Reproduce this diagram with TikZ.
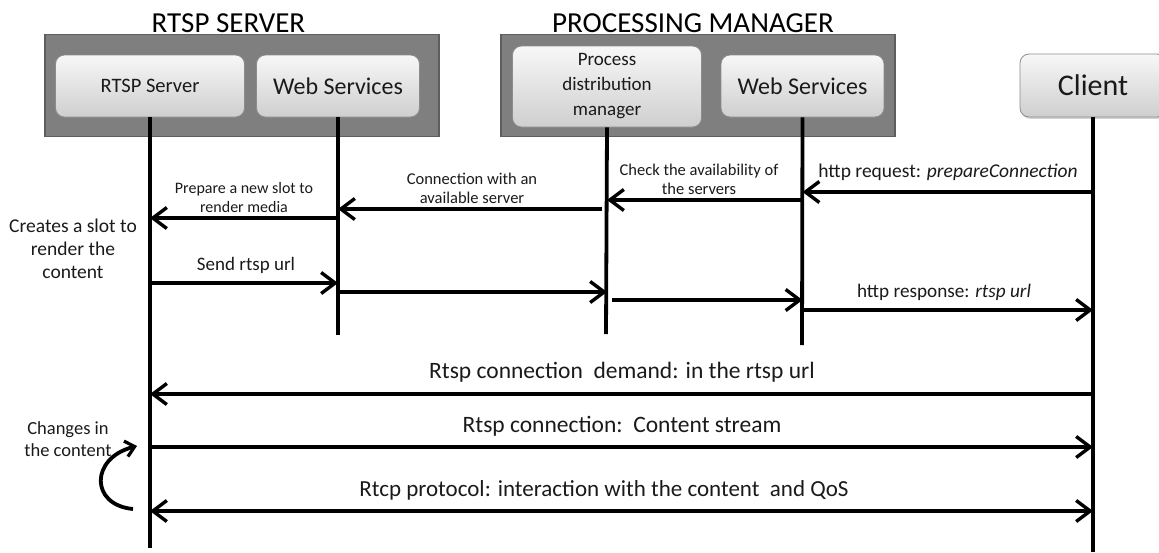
\documentclass[tikz,border=0pt]{standalone}
\usepackage{fontspec}
\setmainfont{Carlito}
\usetikzlibrary{arrows.meta,shadows,calc}

\definecolor{groupfill}{HTML}{7F7F7F}
\definecolor{groupline}{HTML}{5E5E5E}
\definecolor{boxline}{HTML}{8C8C8C}
\definecolor{txt}{HTML}{1A1A1A}

\newcommand{\fs}[2]{\fontsize{#1}{#2}\selectfont}

\tikzset{
  group/.style={draw=groupline, line width=1.6pt, fill=groupfill, minimum height=102pt, inner sep=0pt},
  actor/.style={draw=boxline, line width=0.8pt, rounded corners=9pt,
    top color=gray!6, bottom color=gray!38, minimum height=62pt, inner sep=2pt,
    align=center, text=txt,
    drop shadow={opacity=0.35, shadow xshift=1.2pt, shadow yshift=-1.8pt}},
  title/.style={font=\fs{29}{31}, text=black, inner sep=0pt},
  life/.style={line width=3.8pt, line cap=butt},
  msg/.style={line width=3.8pt, -{Straight Barb[length=14pt, width=21pt, line width=3.4pt]}},
  both/.style={line width=3.8pt, {Straight Barb[length=14pt, width=21pt, line width=3.4pt]}-{Straight Barb[length=14pt, width=21pt, line width=3.4pt]}},
  lbl/.style={text=txt, inner sep=0pt, align=center},
}

\begin{document}
\begin{tikzpicture}[x=1pt, y=-1pt]
  \useasboundingbox (0,0) rectangle (1159,552);

  % group titles
  \node[title] (t1) at (228.5,23) {RTSP SERVER};
  \node[title] (t2) at (693,23) {PROCESSING MANAGER};

  % group frames
  \node[group, minimum width=394pt] (g1) at (242,85.5) {};
  \node[group, minimum width=394pt] (g2) at (698,85.5) {};

  % participants
  \node[actor, minimum width=189pt, font=\fs{20.5}{22}] (rs) at (150,86) {RTSP Server};
  \node[actor, minimum width=163pt, font=\fs{24}{26}] (ws1) at (338,86) {Web Services};
  \node[actor, minimum width=189pt, minimum height=81pt, font=\fs{19}{25}] (pdm) at (607,86.5) {Process\\distribution\\manager};
  \node[actor, minimum width=163pt, font=\fs{24}{26}] (ws2) at (802.5,86) {Web Services};
  \node[actor, minimum width=146pt, minimum height=63pt, font=\fs{30}{32}] (cl) at (1093,85.5) {Client};

  % lifelines
  \coordinate (rsEnd) at (150,548);
  \coordinate (ws1End) at (338,335);
  \coordinate (pdmEnd) at (606,334);
  \coordinate (ws2End) at (802,345);
  \coordinate (clEnd) at (1093,552);
  \draw[life] (rs.south) -- (rsEnd);
  \draw[life] (ws1.south) -- (ws1End);
  \draw[life] (pdm.south) -- (pdmEnd);
  \draw[life] (ws2.south) -- (ws2End);
  \draw[life] (cl.south) -- (clEnd);

  % set-up exchange
  \draw[msg] (cl.south |- 0,192) -- (ws2.south |- 0,192);
  \node[lbl, font=\fs{19.5}{21}] (l1) at (948,172) {http request: \textit{prepareConnection}};

  \draw[msg] (ws2.south |- 0,200) -- (pdm.south |- 0,200);
  \node[lbl, font=\fs{16.5}{19}] (l2) at (699,179) {Check the availability of\\the servers};

  \draw[msg] ($(pdm.south |- 0,209)+(-5,0)$) -- (ws1.south |- 0,209);
  \node[lbl, font=\fs{16.5}{19}] (l3) at (472,188) {Connection with an\\available server};

  \draw[msg] (ws1.south |- 0,218) -- (rs.south |- 0,218);
  \node[lbl, font=\fs{16}{19}] (l4) at (244,197) {Prepare a new slot to\\render media};

  \node[lbl, font=\fs{19.5}{23}] (note1) at (73,249) {Creates a slot to\\render the\\content};

  \draw[msg] (rs.south |- 0,283) -- (ws1.south |- 0,283);
  \node[lbl, font=\fs{19}{21}] (l5) at (246,265) {Send rtsp url};

  \draw[msg] (ws1.south |- 0,292) -- (pdm.south |- 0,292);
  \draw[msg] ($(pdm.south |- 0,300)+(5,0)$) -- (ws2.south |- 0,300);

  \draw[msg] (ws2.south |- 0,310) -- (cl.south |- 0,310);
  \node[lbl, font=\fs{19.2}{21}] (l6) at (944,292) {http response: \textit{rtsp url}};

  % streaming session
  \draw[msg] (cl.south |- 0,394) -- (rs.south |- 0,394);
  \node[lbl, font=\fs{23.5}{25}] (l7) at (622,372) {Rtsp connection\ \ demand: in the rtsp url};

  \draw[msg] (rs.south |- 0,447) -- (cl.south |- 0,447);
  \node[lbl, font=\fs{23.5}{25}] (l8) at (622,426) {Rtsp connection:\ \ Content stream};

  \draw[both] (rs.south |- 0,511) -- (cl.south |- 0,511);
  \node[lbl, font=\fs{23}{25}] (l9) at (604,490) {Rtcp protocol: interaction with the content\ \ and QoS};

  \node[lbl, font=\fs{18.5}{22}] (note2) at (68,439) {Changes in\\the content};

  % feedback loop on the server lifeline
  \coordinate (loopA) at (133,509);
  \coordinate (loopB) at (137,446);
  \draw[line width=3.8pt, -{Straight Barb[length=9pt, width=16pt, line width=3.2pt]}]
    (loopA) .. controls (90,505) and (90,458) .. (loopB);
\end{tikzpicture}
\end{document}
